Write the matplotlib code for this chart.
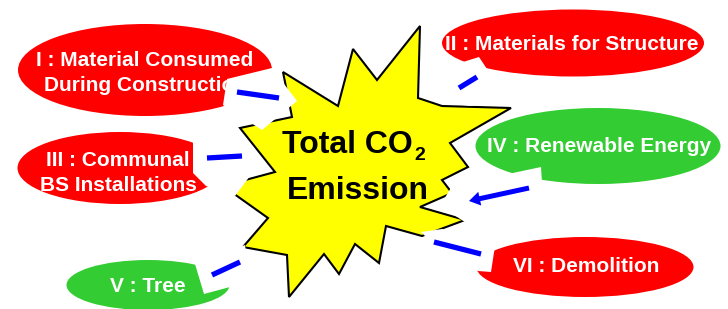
import matplotlib
matplotlib.use("Agg")
import matplotlib.pyplot as plt
from matplotlib.patches import Ellipse, Polygon, FancyArrow

plt.rcParams['font.family'] = ['Liberation Sans', 'DejaVu Sans']

# sources of CO2 in the building life cycle
labels = ["I : Material Consumed\nDuring Construction",
          "II : Materials for Structure",
          "III : Communal\nBS Installations",
          "IV : Renewable Energy",
          "V : Tree",
          "VI : Demolition"]
kinds = ["emit", "emit", "emit", "offset", "offset", "emit"]
centre_title = ["Total CO", "2", "Emission"]

colours = {"emit": "#ff0000", "offset": "#33cc33"}

# layout, in pixels of the 728x309 canvas
ell_xy = [(145, 70), (573, 43), (120, 168), (598, 146), (148, 285), (585, 267)]
ell_wh = [(254, 92), (262, 67), (205, 72), (245, 76), (163, 50), (217, 60)]
text_xy = [(145, 73), (572, 44), (118, 173), (599, 147), (148, 287), (586, 267)]
star = [(283, 72), (338, 106), (353, 49), (377, 80), (420, 26), (418, 98),
        (442, 106), (511, 108), (450, 143), (468, 167), (442, 180), (452, 193),
        (420, 207), (465, 220), (422, 236), (386, 226), (379, 263), (355, 244),
        (339, 274), (324, 254), (289, 297), (287, 255), (243, 247), (268, 218),
        (223, 186), (275, 172), (240, 128), (292, 117)]
masks = [
    [(227, 79), (272, 68), (297, 101), (262, 130), (223, 105)],
    [(444, 68), (479, 57), (489, 72), (490, 104), (470, 106), (441, 102)],
    [(193, 141), (236, 146), (250, 176), (235, 196), (206, 186), (193, 173)],
    [(541, 167), (542, 183), (468, 224), (440, 206), (452, 186)],
    [(195, 264), (245, 245), (250, 281), (230, 287), (204, 294)],
    [(421, 232), (442, 229), (495, 246), (491, 272), (478, 271), (433, 244)],
]
dashes = [((237, 92), (279, 98)),
          ((459, 88), (477, 77)),
          ((207, 158), (242, 156)),
          None,
          ((212, 275), (240, 262)),
          ((434, 242), (481, 254))]

fig = plt.figure(figsize=(7.28, 3.09), dpi=100)
ax = fig.add_axes([0, 0, 1, 1])
ax.set_xlim(0, 728)
ax.set_ylim(309, 0)
ax.axis("off")

ax.add_patch(Polygon(star, closed=True, facecolor="#ffff00",
                     edgecolor="black", lw=1.5, zorder=1))

for i, lab in enumerate(labels):
    w, h = ell_wh[i]
    ax.add_patch(Ellipse(ell_xy[i], w, h, facecolor=colours[kinds[i]],
                         edgecolor="none", zorder=2))
    ax.text(text_xy[i][0], text_xy[i][1], lab, color="white", fontsize=15,
            fontweight="bold", ha="center", va="center", linespacing=1.4,
            zorder=3)

for m in masks:
    ax.add_patch(Polygon(m, closed=True, facecolor="white",
                         edgecolor="none", zorder=4))

for d in dashes:
    if d is None:
        continue
    (x0, y0), (x1, y1) = d
    ax.plot([x0, x1], [y0, y1], color="#0000ff", lw=3.8,
            solid_capstyle="butt", zorder=5)

# arrow from renewable energy
ax.add_patch(FancyArrow(529, 188, -60, 13, width=5, head_width=14,
                        head_length=11, length_includes_head=True,
                        color="#0000ff", lw=0, zorder=5))

ax.text(282, 145, centre_title[0], fontsize=23, fontweight="bold",
        ha="left", va="center", zorder=6)
ax.text(414, 156, centre_title[1], fontsize=14, fontweight="bold",
        ha="left", va="center", zorder=6)
ax.text(358, 191, centre_title[2], fontsize=23, fontweight="bold",
        ha="center", va="center", zorder=6)

fig.savefig("out.png", dpi=100)
